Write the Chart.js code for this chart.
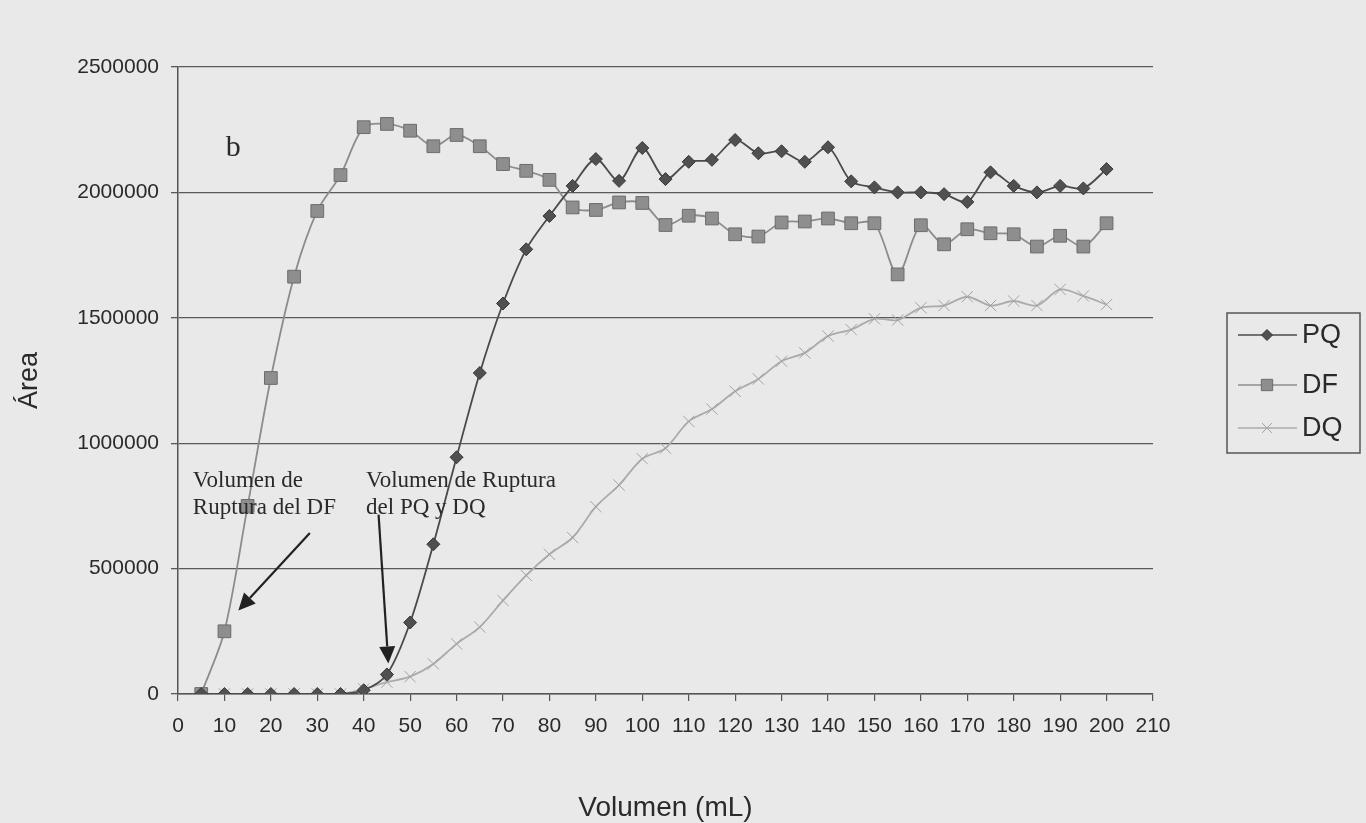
<!DOCTYPE html>
<html>
<head>
<meta charset="utf-8">
<script src="https://cdn.jsdelivr.net/npm/chart.js@4/dist/chart.umd.min.js"></script>
<style>
  html, body { margin: 0; padding: 0; background: #e9e9e9; }
  #wrap { width: 1366px; height: 823px; }
</style>
</head>
<body>
<div id="wrap"><canvas id="myChart"></canvas></div>
<script>
// volumen (mL)
const volumen = [5, 10, 15, 20, 25, 30, 35, 40, 45, 50, 55, 60, 65, 70, 75, 80, 85, 90, 95, 100,
                 105, 110, 115, 120, 125, 130, 135, 140, 145, 150, 155, 160, 165, 170, 175, 180, 185, 190, 195, 200];

const pq = [0, 0, 0, 0, 0, 0, 0, 15000, 78000, 285000, 597000, 944000, 1280000, 1557000, 1773000, 1906000,
            2026000, 2133000, 2046000, 2177000, 2053000, 2122000, 2130000, 2209000, 2156000, 2164000, 2122000,
            2180000, 2044000, 2020000, 2000000, 2000000, 1993000, 1962000, 2080000, 2026000, 2000000, 2026000,
            2016000, 2093000];

const df = [0, 250000, 750000, 1260000, 1664000, 1926000, 2069000, 2260000, 2273000, 2246000, 2184000,
            2229000, 2184000, 2113000, 2086000, 2050000, 1940000, 1930000, 1960000, 1958000, 1870000, 1907000,
            1896000, 1833000, 1824000, 1880000, 1884000, 1896000, 1877000, 1877000, 1673000, 1869000, 1793000,
            1853000, 1837000, 1833000, 1784000, 1827000, 1784000, 1877000];

const dq = [0, 0, 0, 0, 0, 0, 0, 20000, 47000, 69000, 120000, 200000, 267000, 373000, 473000, 557000,
            624000, 747000, 833000, 938000, 980000, 1087000, 1136000, 1207000, 1256000, 1327000, 1360000,
            1427000, 1453000, 1496000, 1491000, 1540000, 1549000, 1584000, 1549000, 1567000, 1549000, 1613000,
            1587000, 1553000];

const xTicks = [0, 10, 20, 30, 40, 50, 60, 70, 80, 90, 100, 110, 120, 130, 140, 150, 160, 170, 180, 190, 200, 210];
const yTicks = [0, 500000, 1000000, 1500000, 2000000, 2500000];

const toPoints = (ys) => volumen.map((v, i) => ({ x: v, y: ys[i] }));

const series = [
  { label: 'PQ', data: pq, line: '#4a4a4a', fill: '#505050', border: '#383838', style: 'rectRot', r: 6.5 },
  { label: 'DF', data: df, line: '#8c8c8c', fill: '#8e8e8e', border: '#6c6c6c', style: 'rect', r: 9 },
  { label: 'DQ', data: dq, line: '#ababab', fill: '#ababab', border: '#a4a4a4', style: 'crossRot', r: 8 }
];

const SANS = '"Liberation Sans", Arial, sans-serif';
const SERIF = '"Liberation Serif", "Times New Roman", serif';

// fondo gris de la hoja
const bgPlugin = {
  id: 'bg',
  beforeDraw(chart) {
    const c = chart.ctx;
    c.save();
    c.fillStyle = '#e9e9e9';
    c.fillRect(0, 0, chart.width, chart.height);
    c.restore();
  }
};

function arrow(c, x1, y1, x2, y2) {
  const ang = Math.atan2(y2 - y1, x2 - x1);
  const len = 17, half = 8;
  const bx = x2 - len * Math.cos(ang), by = y2 - len * Math.sin(ang);
  c.beginPath();
  c.moveTo(x1, y1);
  c.lineTo(bx, by);
  c.stroke();
  c.beginPath();
  c.moveTo(x2, y2);
  c.lineTo(bx + half * Math.sin(ang), by - half * Math.cos(ang));
  c.lineTo(bx - half * Math.sin(ang), by + half * Math.cos(ang));
  c.closePath();
  c.fill();
}

// notas, flechas y leyenda
const notesPlugin = {
  id: 'notes',
  afterDraw(chart) {
    const c = chart.ctx;
    const xs = chart.scales.x, ys = chart.scales.y;
    const px = (v) => xs.getPixelForValue(v);
    const py = (v) => ys.getPixelForValue(v);
    c.save();
    c.fillStyle = '#2a2a2a';
    c.textBaseline = 'alphabetic';
    c.font = '30px ' + SERIF;
    c.fillText('b', px(10.3), py(2145000));

    c.textBaseline = 'middle';
    c.font = '23px ' + SERIF;
    c.fillText('Volumen de', px(3.2), py(850000));
    c.fillText('Ruptura del DF', px(3.2), py(743000));
    c.fillText('Volumen de Ruptura', px(40.5), py(850000));
    c.fillText('del PQ y DQ', px(40.5), py(743000));

    c.strokeStyle = '#222';
    c.fillStyle = '#222';
    c.lineWidth = 2.2;
    arrow(c, px(28.4), py(642000), px(13), py(333000));
    arrow(c, px(43.2), py(715000), px(45.3), py(122000));

    // leyenda
    const L = 1227, T = 313, W = 133, H = 140;
    c.strokeStyle = '#555';
    c.lineWidth = 1.5;
    c.strokeRect(L, T, W, H);
    const rows = [335, 385, 428];
    c.font = '27px ' + SANS;
    series.forEach((s, i) => {
      const y = rows[i];
      c.strokeStyle = s.line;
      c.lineWidth = 1.5;
      c.beginPath();
      c.moveTo(1238, y);
      c.lineTo(1297, y);
      c.stroke();
      c.fillStyle = s.fill;
      c.strokeStyle = s.border;
      c.lineWidth = 1;
      Chart.helpers.drawPoint(c, { pointStyle: s.style, radius: s.r - 1, borderWidth: 1, rotation: 0 }, 1267, y);
      c.fillStyle = '#2a2a2a';
      c.textAlign = 'left';
      c.fillText(s.label, 1302, y + 1);
    });
    c.restore();
  }
};

const ctx = document.getElementById('myChart');
new Chart(ctx, {
  type: 'line',
  data: {
    datasets: series.map(s => ({
      label: s.label,
      data: toPoints(s.data),
      borderColor: s.line,
      borderWidth: 1.8,
      backgroundColor: s.fill,
      pointBackgroundColor: s.fill,
      pointBorderColor: s.border,
      pointBorderWidth: 1,
      pointStyle: s.style,
      pointRadius: s.r,
      tension: 0.3,
      fill: false
    }))
  },
  options: {
    responsive: true,
    maintainAspectRatio: false,
    animation: false,
    layout: { padding: { left: 0, right: 213, top: 67, bottom: 0 } },
    plugins: {
      legend: { display: false },
      tooltip: { enabled: false }
    },
    scales: {
      x: {
        type: 'linear',
        min: 0,
        max: 210,
        afterBuildTicks: (s) => { s.ticks = xTicks.map(v => ({ value: v })); },
        afterFit: (s) => { s.height = 129; },
        ticks: {
          color: '#2a2a2a',
          padding: 13,
          maxRotation: 0,
          autoSkip: false,
          font: { family: SANS, size: 21 }
        },
        grid: { drawOnChartArea: false, drawTicks: true, tickLength: 7, color: '#555', lineWidth: 1.2 },
        border: { display: true, color: '#555', width: 1.5 },
        title: {
          display: true,
          text: 'Volumen (mL)',
          color: '#2a2a2a',
          padding: { top: 0, bottom: 1 },
          font: { family: SANS, size: 28, lineHeight: 1 }
        }
      },
      y: {
        min: 0,
        max: 2500000,
        afterBuildTicks: (s) => { s.ticks = yTicks.map(v => ({ value: v })); },
        afterFit: (s) => { s.width = 178; },
        ticks: {
          color: '#2a2a2a',
          padding: 12,
          callback: (v) => String(v),
          font: { family: SANS, size: 21 }
        },
        grid: { color: '#5a5a5a', lineWidth: 1.3, tickLength: 7 },
        border: { display: true, color: '#555', width: 1.5 },
        title: {
          display: true,
          text: 'Área',
          color: '#2a2a2a',
          padding: { top: 16, bottom: 0 },
          font: { family: SANS, size: 27, lineHeight: 1 }
        }
      }
    }
  },
  plugins: [bgPlugin, notesPlugin]
});
</script>
</body>
</html>
